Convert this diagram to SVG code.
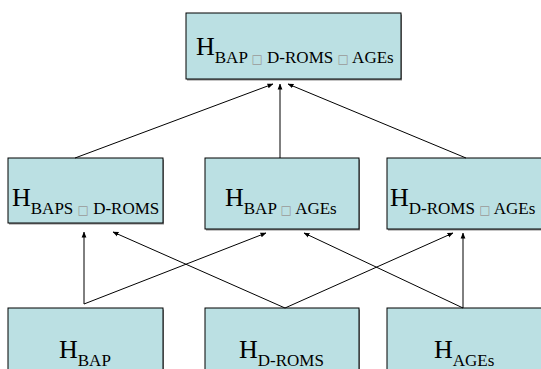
<svg xmlns="http://www.w3.org/2000/svg" width="541" height="369" viewBox="0 0 541 369">
  <style>
    .box { fill: #BBE0E3; stroke: #000; stroke-width: 1; }
    .shadow { fill: #8a8a8a; }
    .lbl { font-family: "Liberation Serif", "Times New Roman", serif; font-size: 26px; fill: #000; }
    .sub { font-size: 17px; }
    .sym { font-family: "DejaVu Sans", sans-serif; font-size: 12px; fill: #999; }
    .edge { stroke: #000; stroke-width: 1; fill: none; marker-end: url(#arrow); }
  </style>
  <defs>
    <marker id="arrow" markerWidth="6" markerHeight="6" refX="5.5" refY="3" orient="auto" markerUnits="userSpaceOnUse">
      <path d="M0,0.6 L6,3 L0,5.4 Z" fill="#000"/>
    </marker>
  </defs>

  <rect width="541" height="369" fill="#fff"/>

  <!-- top hypothesis -->
  <g id="n-top">
    <rect class="shadow" x="187" y="14.5" width="215" height="66"/>
    <rect class="box" x="186" y="13" width="215" height="66"/>
    <text class="lbl" x="196" y="55">H<tspan class="sub" dy="8">BAP <tspan class="sym">□</tspan> D-ROMS <tspan class="sym">□</tspan> AGEs</tspan></text>
  </g>

  <!-- middle row -->
  <g id="n-baps-droms">
    <rect class="shadow" x="9" y="159.5" width="155" height="65"/>
    <rect class="box" x="8" y="158" width="155" height="65"/>
    <text class="lbl" x="12" y="206">H<tspan class="sub" dy="8">BAPS <tspan class="sym">□</tspan> D-ROMS</tspan></text>
  </g>
  <g id="n-bap-ages">
    <rect class="shadow" x="206" y="159.5" width="154" height="71"/>
    <rect class="box" x="205" y="158" width="154" height="71"/>
    <text class="lbl" x="225" y="206">H<tspan class="sub" dy="8">BAP <tspan class="sym">□</tspan> AGEs</tspan></text>
  </g>
  <g id="n-droms-ages">
    <rect class="shadow" x="388" y="159.5" width="160" height="71"/>
    <rect class="box" x="387" y="158" width="160" height="71"/>
    <text class="lbl" x="390" y="206">H<tspan class="sub" dy="8">D-ROMS <tspan class="sym">□</tspan> AGEs</tspan></text>
  </g>

  <!-- bottom row -->
  <g id="n-bap">
    <rect class="shadow" x="9" y="309.5" width="155" height="80"/>
    <rect class="box" x="8" y="308" width="155" height="80"/>
    <text class="lbl" x="59" y="358">H<tspan class="sub" dy="8">BAP</tspan></text>
  </g>
  <g id="n-droms">
    <rect class="shadow" x="206" y="309.5" width="154" height="80"/>
    <rect class="box" x="205" y="308" width="154" height="80"/>
    <text class="lbl" x="239" y="358">H<tspan class="sub" dy="8">D-ROMS</tspan></text>
  </g>
  <g id="n-ages">
    <rect class="shadow" x="388" y="309.5" width="160" height="80"/>
    <rect class="box" x="387" y="308" width="160" height="80"/>
    <text class="lbl" x="434" y="358">H<tspan class="sub" dy="8">AGEs</tspan></text>
  </g>

  <g id="connectors">
    <line class="edge" x1="75" y1="158" x2="273" y2="84"/>
    <line class="edge" x1="280" y1="158" x2="280" y2="84"/>
    <line class="edge" x1="466" y1="158" x2="288" y2="84"/>

    <line class="edge" x1="84" y1="304" x2="84" y2="232"/>
    <line class="edge" x1="84" y1="304" x2="266" y2="233"/>
    <line class="edge" x1="285" y1="308" x2="113" y2="232"/>
    <line class="edge" x1="285" y1="308" x2="453" y2="233"/>
    <line class="edge" x1="463" y1="308" x2="304" y2="233"/>
    <line class="edge" x1="463" y1="308" x2="463" y2="233"/>
  </g>
</svg>
